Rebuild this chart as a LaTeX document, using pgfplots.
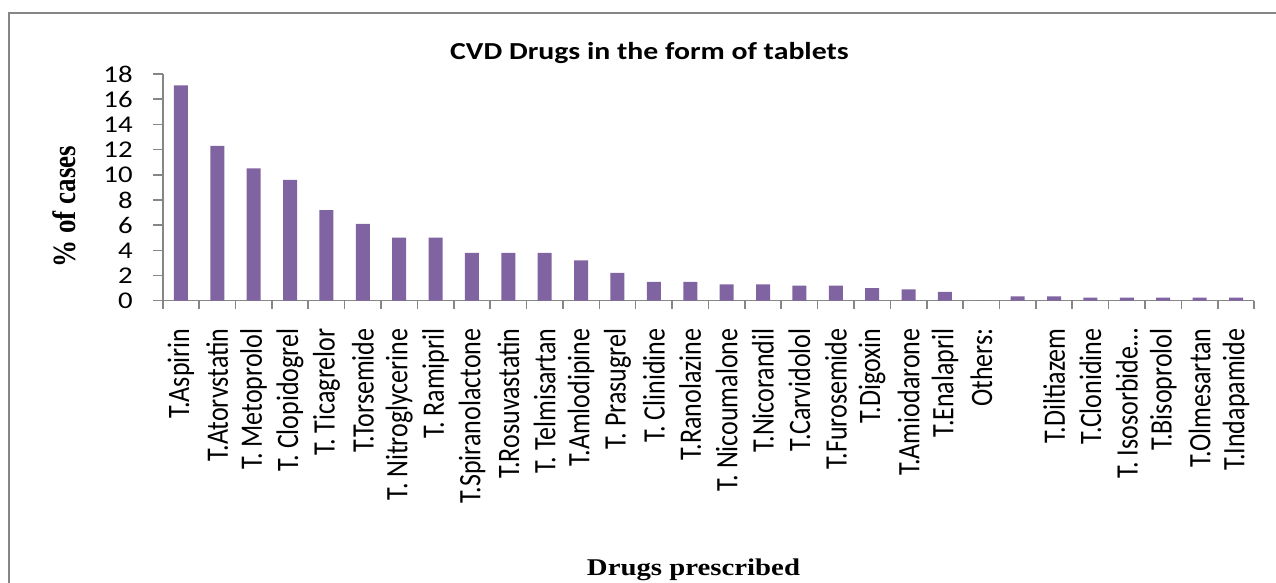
\documentclass[border=0pt]{standalone}
\usepackage{fontspec}
\setmainfont{Carlito}
\newfontfamily\tickfont[FakeStretch=1.2]{Carlito}
\newfontfamily\titlefont[FakeStretch=1.22]{Carlito}
\newfontfamily\serifwide[FakeStretch=1.2]{Liberation Serif}
\newfontfamily\serifn{Liberation Serif}
\usepackage{graphicx}
\usepackage{pgfplots}
\pgfplotsset{compat=1.18}
\definecolor{barcol}{HTML}{8064A2}
\definecolor{axgray}{HTML}{868686}
\newcommand\C[1]{\scalebox{1}[1.2]{#1}}
\begin{document}
\begin{tikzpicture}[x=1pt,y=1pt]
\useasboundingbox (0,0) rectangle (638,291.5);
\draw[color=axgray, line width=1pt] (4.5,-5) -- (4.5,285.15) -- (645,285.15);
\begin{axis}[
  at={(81.35pt,141.15pt)}, anchor=south west,
  scale only axis, width=545.75pt, height=113.35pt,
  xmin=-0.5, xmax=29.5, ymin=0, ymax=18,
  axis lines=left,
  axis line style={-, draw=axgray, line width=0.8pt},
  tick align=outside,
  ytick={0,2,...,18},
  xtick={0,...,29},
  xticklabels={\C{T.Aspirin},\C{T.Atorvstatin},\C{T. Metoprolol},\C{T. Clopidogrel},\C{T. Ticagrelor},\C{T.Torsemide},\C{T. Nitroglycerine},\C{T. Ramipril},\C{T.Spiranolactone},\C{T.Rosuvastatin},\C{T. Telmisartan},\C{T.Amlodipine},\C{T. Prasugrel},\C{T. Clinidine},\C{T.Ranolazine},\C{T. Nicoumalone},\C{T.Nicorandil},\C{T.Carvidolol},\C{T.Furosemide},\C{T.Digoxin},\C{T.Amiodarone},\C{T.Enalapril},\C{Others:},{},\C{T.Diltiazem},\C{T.Clonidine},\C{T. Isosorbide…},\C{T.Bisoprolol},\C{T.Olmesartan},\C{T.Indapamide}},
  minor xtick={-0.5,0.5,...,29.5},
  major tick length=4.7pt, minor tick length=4pt,
  tick style={draw=axgray, line width=0.8pt},
  every major x tick/.append style={draw=none},
  /pgf/number format/assume math mode=true,
  yticklabel style={font=\tickfont\fontsize{12}{12}\selectfont, anchor=east, inner sep=0pt, xshift=-10.15pt},
  xticklabel style={font=\fontsize{13}{13}\selectfont, yshift=-9pt, rotate=90, anchor=east, inner sep=0pt},
  every axis title shift=0pt,
  title={CVD Drugs in the form of tablets},
  title style={font=\titlefont\bfseries\fontsize{12.2}{12.2}\selectfont, at={(axis description cs:0.446,1.0618)}, anchor=base, inner sep=0pt},
  xlabel={Drugs prescribed},
  xlabel style={font=\serifwide\bfseries\fontsize{12}{12}\selectfont, at={(axis description cs:0.4863,-1.21)}, anchor=base, inner sep=0pt},
  ylabel={\C{\% of cases}},
  ylabel style={font=\serifn\bfseries\fontsize{13.5}{13.5}\selectfont, at={(axis description cs:-0.0904,0.4155)}, anchor=center, inner sep=0pt},
]
\addplot[ybar, bar width=7pt, fill=barcol, draw=none] coordinates {
(0,17.1) (1,12.3) (2,10.5) (3,9.6) (4,7.2) (5,6.1) (6,5.0) (7,5.0) (8,3.8) (9,3.8)
(10,3.8) (11,3.2) (12,2.2) (13,1.5) (14,1.5) (15,1.3) (16,1.3) (17,1.2) (18,1.2) (19,1.0)
(20,0.9) (21,0.7) (22,0) (23,0.35) (24,0.35) (25,0.25) (26,0.25) (27,0.25) (28,0.25) (29,0.25)
};
\end{axis}
\end{tikzpicture}
\end{document}
